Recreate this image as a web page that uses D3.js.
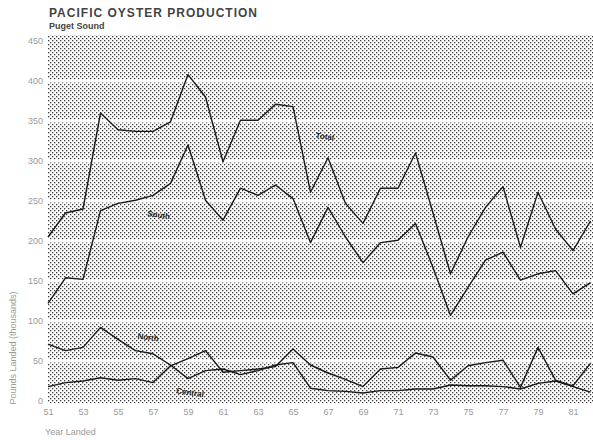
<!DOCTYPE html>
<html>
<head>
<meta charset="utf-8" />
<title>Pacific Oyster Production</title>
<script src="https://d3js.org/d3.v7.min.js"></script>
<style>
body { margin: 0; background: #fff; }
svg text { font-family: "Liberation Sans", Arial, sans-serif; }
</style>
</head>
<body>
<div id="chart"></div>
<script type="text/javascript">
// values
var years   = [1951,1952,1953,1954,1955,1956,1957,1958,1959,1960,1961,1962,1963,1964,1965,1966,
               1967,1968,1969,1970,1971,1972,1973,1974,1975,1976,1977,1978,1979,1980,1981,1982];
var total   = [205,235,240,360,339,337,337,349,408,380,299,351,351,371,368,261,
               304,247,222,266,266,310,235,159,205,242,268,192,261,215,188,225];
var south   = [122,154,152,238,247,251,257,272,320,251,226,266,257,270,253,198,
               242,205,173,198,201,222,167,107,142,176,186,151,159,163,134,148];
var north   = [71,63,67,92,77,63,59,45,28,38,40,33,38,45,48,16,
               13,12,10,13,13,15,15,20,19,19,18,15,22,25,18,11];
var central = [18,23,25,29,26,28,23,44,53,63,36,38,40,43,65,45,
               35,27,18,40,42,60,55,26,44,48,51,17,67,26,19,47];

var yTicks = [0,50,100,150,200,250,300,350,400,450];
var xTicks = [1951,1953,1955,1957,1959,1961,1963,1965,1967,1969,1971,1973,1975,1977,1979,1981];

var W = 593, H = 440;

var svg = d3.select("#chart").append("svg").attr("width", W).attr("height", H);

var x = d3.scaleLinear().domain([1951, 1982]).range([48, 590.5]);
var y = d3.scaleLinear().domain([0, 450]).range([401, 41]);

// halftone dot fill for the plot area
var pat = svg.append("defs").append("pattern")
  .attr("id", "dots").attr("width", 4).attr("height", 4)
  .attr("patternUnits", "userSpaceOnUse");
pat.append("rect").attr("width", 4).attr("height", 4).attr("fill", "#fff");
pat.append("rect").attr("x", 0).attr("y", 0).attr("width", 1.3).attr("height", 1.3).attr("fill", "#3a3a3a");
pat.append("rect").attr("x", 2).attr("y", 2).attr("width", 1.3).attr("height", 1.3).attr("fill", "#3a3a3a");

svg.append("rect")
  .attr("x", x(1951)).attr("y", y(450) - 6)
  .attr("width", W - x(1951)).attr("height", y(0) - y(450) + 8)
  .attr("fill", "url(#dots)");

// white gridlines cut through the dots
svg.append("g").selectAll("line")
  .data(yTicks.filter(function(d) { return d > 0 && d < 450; }))
  .enter().append("line")
  .attr("x1", x(1951)).attr("x2", W)
  .attr("y1", function(d) { return y(d); })
  .attr("y2", function(d) { return y(d); })
  .attr("stroke", "#fff").attr("stroke-width", 3);

// axes
var yAxis = svg.append("g").attr("transform", "translate(43,0)")
  .call(d3.axisLeft(y).tickValues(yTicks).tickSize(0).tickPadding(0));
var xAxis = svg.append("g").attr("transform", "translate(0,409)")
  .call(d3.axisBottom(x).tickValues(xTicks).tickSize(0).tickPadding(0)
    .tickFormat(function(d) { return String(d).slice(2); }));
[yAxis, xAxis].forEach(function(a) {
  a.select(".domain").remove();
  a.selectAll("text").attr("fill", "#9a9a9a").attr("font-size", 9);
});

// series lines
var line = d3.line()
  .x(function(d, i) { return x(years[i]); })
  .y(function(d) { return y(d); });

[total, south, north, central].forEach(function(s) {
  svg.append("path").datum(s)
    .attr("d", line)
    .attr("fill", "none")
    .attr("stroke", "#1a1a1a")
    .attr("stroke-width", 1.4)
    .attr("stroke-linejoin", "round");
});

// series labels, placed in data units
var labels = [
  {t: "Total",   yr: 1966.8, v: 331},
  {t: "South",   yr: 1957.3, v: 233},
  {t: "North",   yr: 1956.7, v: 80},
  {t: "Central", yr: 1959.1, v: 11}
];
svg.append("g").selectAll("text").data(labels).enter().append("text")
  .attr("transform", function(d) { return "translate(" + x(d.yr) + "," + (y(d.v) + 3) + ") rotate(8)"; })
  .attr("text-anchor", "middle")
  .attr("font-size", 8)
  .attr("font-weight", "bold")
  .attr("fill", "#222")
  .text(function(d) { return d.t; });

// titles
svg.append("text").attr("x", 49).attr("y", 17)
  .attr("font-size", 12).attr("font-weight", "bold").attr("fill", "#444")
  .attr("textLength", 208).attr("lengthAdjust", "spacing")
  .text("PACIFIC OYSTER PRODUCTION");
svg.append("text").attr("x", 49).attr("y", 29)
  .attr("font-size", 9).attr("font-weight", "bold").attr("fill", "#444")
  .text("Puget Sound");

svg.append("text").attr("x", 45).attr("y", 435)
  .attr("font-size", 9).attr("fill", "#9a9a9a")
  .text("Year Landed");
svg.append("text")
  .attr("transform", "translate(16,348) rotate(-90)")
  .attr("text-anchor", "middle")
  .attr("font-size", 9).attr("fill", "#9a9a9a")
  .text("Pounds Landed (thousands)");
</script>
</body>
</html>
